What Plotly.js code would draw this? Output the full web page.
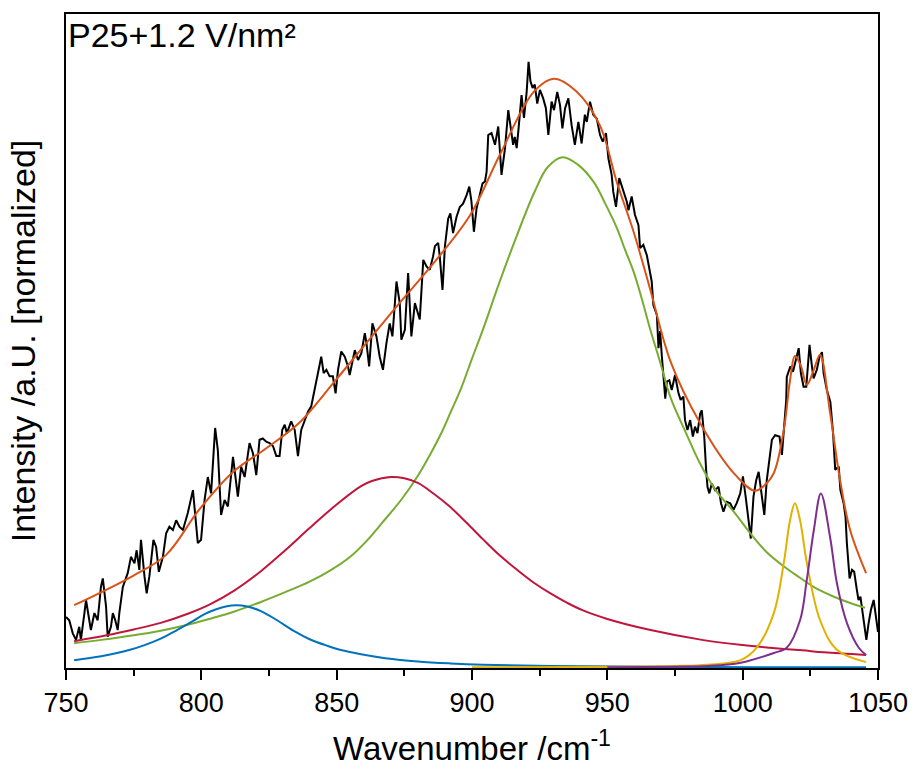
<!DOCTYPE html>
<html>
<head>
<meta charset="utf-8">
<script src="https://cdn.plot.ly/plotly-3.0.1.min.js"></script>
<style>html,body{margin:0;padding:0;background:#fff}#chart{width:914px;height:771px}</style>
</head>
<body>
<div id="chart"></div>
<script>
// Measured spectrum (black)
const wnData = [750.0,751.2,752.5,753.7,754.9,755.5,756.8,757.4,758.6,759.2,760.5,761.7,762.9,763.6,764.8,765.4,766.6,767.3,768.2,769.1,769.7,771.0,772.8,774.0,775.3,776.1,777.1,777.7,779.0,779.8,780.8,782.3,783.3,784.3,785.8,787.0,788.2,789.5,790.7,791.9,793.2,795.0,796.9,798.1,798.7,799.9,801.2,802.4,803.6,805.1,806.1,806.7,807.3,808.6,809.8,811.7,812.9,813.5,814.7,816.0,817.8,819.1,820.3,821.5,822.7,
824.0,825.2,826.5,827.7,828.9,829.9,830.8,831.6,833.2,834.5,835.7,836.9,838.2,839.4,840.6,841.9,842.5,843.5,844.3,845.2,846.2,847.4,848.6,849.6,850.5,851.7,853.0,854.2,854.8,856.7,857.9,859.1,860.4,861.0,862.0,863.2,864.7,865.9,867.1,868.4,869.6,870.6,872.1,873.3,873.9,875.2,876.4,877.6,878.9,880.7,882.0,883.2,884.4,885.6,886.3,887.5,888.1,889.1,890.0,891.2,892.0,893.0,894.3,895.5,896.7,
898.0,899.0,899.8,900.7,901.7,902.9,903.9,904.8,905.4,906.0,907.2,908.5,909.7,910.9,912.2,913.4,914.0,915.2,915.8,916.5,917.1,918.3,919.2,920.2,920.9,921.6,922.4,923.2,924.1,925.1,926.3,927.3,928.2,929.4,930.3,931.5,932.5,933.4,934.4,935.6,936.8,938.0,939.3,940.5,941.7,942.4,943.6,944.8,946.1,947.3,948.3,949.5,950.4,951.6,952.2,953.2,954.4,955.9,957.2,957.8,959.0,960.2,961.5,962.1,963.3,964.6,965.8,966.4,967.0,968.3,968.9,969.5,970.1,970.7,971.4,
972.0,972.9,973.8,975.0,976.3,977.1,978.1,978.7,979.6,980.6,981.6,982.4,983.3,984.3,984.9,985.8,986.5,987.0,987.7,988.6,989.8,991.1,992.0,992.9,994.1,995.4,996.6,997.8,999.1,1000.1,1001.1,1002.2,1003.0,1004.0,1005.0,1005.9,1006.7,1008.0,1008.9,1009.6,1010.8,1012.0,1013.6,1014.5,1015.1,1016.1,1016.3,1017.6,1018.6,1019.4,1020.7,1021.5,1022.5,1023.5,1024.7,1025.6,1026.2,1027.4,1028.4,1029.3,1029.9,1031.1,1032.4,1033.4,1034.2,1035.5,1036.1,1037.3,1038.0,1038.5,1039.5,1040.4,1041.2,1042.2,1042.8,1043.5,1044.7,1045.7,1046.5,1047.4,1048.4,1049.4,1050.0];
const intData = [0.078,0.073,0.053,0.043,0.063,0.043,0.084,0.104,0.073,0.058,0.084,0.073,0.124,0.137,0.094,0.048,0.063,0.084,0.073,0.058,0.084,0.124,0.145,0.170,0.160,0.180,0.150,0.196,0.140,0.114,0.140,0.196,0.185,0.147,0.170,0.206,0.216,0.211,0.226,0.216,0.211,0.237,0.272,0.216,0.191,0.196,0.257,0.292,0.267,0.367,0.333,0.282,0.234,0.257,0.247,0.323,0.282,0.262,0.308,0.292,0.344,0.328,0.295,0.349,0.351,
0.346,0.344,0.339,0.324,0.324,0.364,0.372,0.359,0.377,0.364,0.324,0.364,0.379,0.392,0.400,0.425,0.440,0.456,0.476,0.451,0.456,0.446,0.446,0.420,0.456,0.484,0.476,0.461,0.448,0.486,0.471,0.481,0.512,0.497,0.461,0.527,0.507,0.476,0.456,0.497,0.527,0.507,0.591,0.558,0.502,0.517,0.604,0.507,0.558,0.533,0.624,0.614,0.609,0.629,0.645,0.650,0.629,0.578,0.645,0.687,0.695,0.665,0.690,0.705,0.710,
0.723,0.736,0.713,0.667,0.703,0.723,0.741,0.744,0.759,0.815,0.818,0.800,0.828,0.754,0.795,0.853,0.835,0.800,0.812,0.795,0.820,0.876,0.841,0.881,0.927,0.897,0.887,0.892,0.863,0.884,0.871,0.856,0.815,0.866,0.853,0.881,0.861,0.825,0.856,0.871,0.830,0.800,0.835,0.802,0.846,0.835,0.866,0.846,0.840,0.815,0.805,0.818,0.779,0.754,0.728,0.705,0.749,0.728,0.713,0.700,0.721,0.693,0.677,0.642,0.647,0.631,0.606,0.591,0.555,0.540,0.489,0.515,0.479,0.448,0.412,
0.438,0.440,0.425,0.448,0.420,0.410,0.415,0.379,0.364,0.379,0.354,0.369,0.359,0.389,0.394,0.354,0.303,0.277,0.267,0.282,0.272,0.277,0.252,0.239,0.254,0.252,0.242,0.252,0.267,0.293,0.262,0.221,0.198,0.262,0.287,0.300,0.277,0.234,0.287,0.313,0.349,0.356,0.354,0.326,0.359,0.410,0.445,0.461,0.453,0.466,0.489,0.451,0.430,0.430,0.494,0.461,0.443,0.456,0.476,0.483,0.451,0.425,0.407,0.359,0.303,0.308,0.272,0.252,0.231,0.191,0.137,0.150,0.147,0.119,0.104,0.109,0.073,0.043,0.068,0.089,0.104,0.068,0.055];

// Cumulative fit (orange)
const wnFit = [753.0,774.8,787.0,799.2,811.8,824.0,836.2,848.8,861.0,873.2,885.8,899.4,910.2,922.8,930.2,938.7,947.2,953.5,959.7,965.7,973.4,984.2,996.7,1004.5,1008.0,1011.5,1015.2,1017.5,1019.3,1021.5,1023.7,1026.2,1028.6,1032.3,1036.0,1039.7,1045.6];
const intFit = [0.096,0.141,0.173,0.242,0.300,0.336,0.375,0.436,0.497,0.558,0.619,0.693,0.784,0.881,0.901,0.881,0.830,0.743,0.667,0.581,0.468,0.375,0.298,0.271,0.279,0.298,0.364,0.440,0.477,0.462,0.433,0.455,0.479,0.390,0.287,0.211,0.145];

// Component peaks
const wnGreen = [753.0,763.0,775.0,785.0,795.0,803.0,812.0,822.0,831.0,840.0,848.0,855.0,861.0,867.0,874.0,880.0,885.0,889.0,892.0,896.0,900.0,904.0,910.0,916.0,923.0,928.0,933.5,939.0,945.0,949.0,953.5,956.5,959.7,962.7,965.7,969.5,973.4,979.0,984.2,990.0,996.7,1003.0,1008.9,1015.0,1021.2,1027.0,1033.7,1040.0,1045.2];
const intGreen = [0.038,0.043,0.050,0.057,0.066,0.075,0.086,0.101,0.116,0.132,0.150,0.170,0.194,0.223,0.258,0.294,0.330,0.362,0.390,0.428,0.473,0.517,0.588,0.655,0.727,0.766,0.781,0.770,0.743,0.712,0.673,0.640,0.606,0.565,0.520,0.468,0.413,0.360,0.313,0.272,0.239,0.205,0.177,0.156,0.138,0.122,0.109,0.099,0.092];

const wnRed = [753.0,765.0,775.0,785.0,795.0,803.0,812.0,822.0,831.0,840.0,850.0,859.0,863.0,870.0,875.0,880.0,886.0,892.0,898.0,904.0,910.0,917.0,923.0,929.0,935.0,941.0,950.0,966.0,985.0,1000.0,1010.0,1022.0,1030.0,1045.6];
const intRed = [0.041,0.050,0.059,0.069,0.083,0.097,0.118,0.148,0.180,0.214,0.250,0.278,0.286,0.292,0.290,0.283,0.266,0.246,0.222,0.197,0.173,0.149,0.130,0.114,0.100,0.088,0.075,0.058,0.043,0.035,0.031,0.027,0.024,0.020];

const wnBlue = [753.0,763.0,773.0,779.0,785.0,791.0,797.0,801.0,805.0,809.0,813.0,817.0,822.0,828.0,834.0,840.0,846.5,852.0,859.0,868.0,880.0,892.0,904.0,929.0,966.0,1005.0,1045.6];
const intBlue = [0.012,0.018,0.027,0.035,0.045,0.058,0.072,0.082,0.089,0.094,0.096,0.094,0.087,0.073,0.057,0.044,0.034,0.027,0.021,0.015,0.010,0.007,0.005,0.003,0.002,0.001,0.001];

const wnYellow = [900.0,955.0,975.0,987.1,999.3,1005.2,1011.5,1015.2,1017.5,1019.3,1021.2,1023.7,1028.6,1034.8,1045.6];
const intYellow = [0.001,0.002,0.003,0.005,0.012,0.031,0.084,0.161,0.226,0.252,0.226,0.161,0.073,0.028,0.009];

const wnPurple = [950.0,975.0,987.1,999.3,1011.5,1016.3,1021.2,1023.7,1026.3,1028.9,1032.3,1034.8,1038.5,1042.9,1045.6];
const intPurple = [0.001,0.002,0.003,0.008,0.023,0.031,0.073,0.135,0.211,0.267,0.200,0.130,0.069,0.031,0.020];

const xTickVals = [750,800,850,900,950,1000,1050];
const xTickText = ['750','800','850','900','950','1000','1050'];

const FONT = 'Arial, "Liberation Sans", sans-serif';
const sm = {shape:'spline', smoothing:1, width:2};

const traces = [
  {x: wnData, y: intData, mode:'lines', line:{color:'#000000', width:2}, name:'data'},
  {x: wnGreen, y: intGreen, mode:'lines', line:Object.assign({color:'#77AC30'}, sm), name:'green'},
  {x: wnRed, y: intRed, mode:'lines', line:Object.assign({color:'#C0163C'}, sm), name:'red'},
  {x: wnBlue, y: intBlue, mode:'lines', line:Object.assign({color:'#0072BD'}, sm), name:'blue'},
  {x: wnYellow, y: intYellow, mode:'lines', line:Object.assign({color:'#E3B000'}, sm), name:'yellow'},
  {x: wnPurple, y: intPurple, mode:'lines', line:Object.assign({color:'#7E2F8E'}, sm), name:'purple'},
  {x: wnFit, y: intFit, mode:'lines', line:Object.assign({color:'#D95319'}, sm), name:'fit'}
];

const layout = {
  width: 914, height: 771,
  margin: {l:66, r:36, t:14, b:103, autoexpand:false},
  paper_bgcolor:'#fff', plot_bgcolor:'#fff',
  showlegend:false,
  font:{family:FONT, color:'#000'},
  xaxis:{
    range:[750,1050], showline:true, linecolor:'#000', linewidth:2, mirror:true,
    ticks:'outside', ticklen:10, tickwidth:2, tickcolor:'#000',
    tickmode:'array', tickvals:xTickVals, ticktext:xTickText,
    minor:{tickmode:'linear', tick0:750, dtick:25, ticks:'outside', ticklen:6, tickwidth:2, tickcolor:'#000', showgrid:false},
    showgrid:false, zeroline:false,
    tickfont:{size:27, family:FONT},
    title:{text:'Wavenumber /cm<sup>-1</sup>', font:{size:33, family:FONT}, standoff:19}
  },
  yaxis:{
    range:[0,1], showline:true, linecolor:'#000', linewidth:2, mirror:true,
    ticks:'', showticklabels:false, showgrid:false, zeroline:false,
    title:{text:'Intensity /a.U. [normalized]', font:{size:34, family:FONT}, standoff:18}
  },
  annotations:[{
    xref:'paper', yref:'paper', x:0, y:1, xanchor:'left', yanchor:'top',
    xshift:0, yshift:0, showarrow:false,
    text:'P25+1.2 V/nm²', font:{size:34, family:FONT, color:'#000'}
  }]
};

Plotly.newPlot('chart', traces, layout, {staticPlot:true, displayModeBar:false});
</script>
</body>
</html>
